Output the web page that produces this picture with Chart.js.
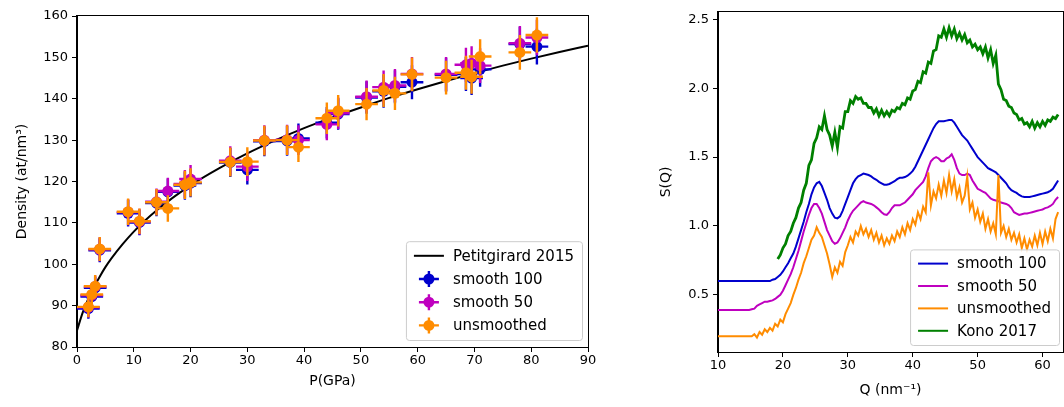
<!DOCTYPE html>
<html>
<head>
<meta charset="utf-8">
<script src="https://cdn.jsdelivr.net/npm/chart.js@4.4.1/dist/chart.umd.min.js"></script>
<style>
  body { margin: 0; background: #fff; }
  canvas { position: absolute; top: 0; }
</style>
</head>
<body>
<canvas id="left" width="600" height="407" style="left:0px"></canvas>
<canvas id="right" width="424" height="407" style="left:640px"></canvas>
<script>
// ---- left panel: density vs pressure ----
const pressure = [2.0, 2.6, 3.2, 4.0, 9.0, 11.0, 14.0, 16.0, 19.0, 20.0, 27.0, 30.0, 33.0, 37.0, 39.0,
                  44.0, 46.0, 51.0, 54.0, 56.0, 59.0, 65.0, 68.5, 69.5, 71.0, 78.0, 81.0];
const densSmooth100 = [89.3, 92.2, 94.3, 103.4, 112.3, 110.1, 114.8, 117.5, 119.0, 119.6, 124.6, 122.8, 129.7, 129.8, 130.4,
                       134.2, 136.3, 140.3, 141.8, 142.9, 144.0, 145.8, 146.0, 145.0, 147.1, 153.2, 152.6];
const densSmooth50 = [89.6, 92.5, 94.6, 103.6, 112.6, 110.3, 115.1, 117.7, 119.4, 120.6, 125.0, 123.6, 130.0, 130.1, 130.0,
                      133.8, 136.5, 140.5, 142.8, 143.2, 146.0, 146.0, 148.2, 148.6, 148.0, 153.4, 154.8];
const densUnsmoothed = [89.7, 92.7, 94.7, 103.7, 112.7, 110.4, 115.0, 113.5, 119.2, 119.8, 124.7, 124.8, 129.9, 130.0, 128.3,
                        135.3, 137.1, 138.7, 142.0, 141.3, 145.9, 145.1, 146.3, 145.3, 150.2, 151.2, 155.4];
const pErr = [2, 2, 2, 2, 2, 2, 2, 2, 2, 2, 2, 2, 2, 2, 2, 2, 2, 2, 2, 2, 2, 2, 2, 2, 2, 2, 2];
const dErr = [2.5, 2.6, 2.7, 2.9, 3.2, 3.1, 3.2, 3.2, 3.4, 3.4, 3.5, 3.5, 3.6, 3.6, 3.6,
              3.8, 3.8, 3.9, 4.0, 4.0, 4.1, 4.1, 4.1, 4.1, 4.2, 4.2, 4.3];

const eosP = [0, 1, 2, 3, 4, 5, 6, 8, 10, 12, 14, 16, 18, 20, 25, 30, 35, 40, 45, 50, 55, 60, 65, 70, 75, 80, 85, 90];
const eosD = [84.0, 88.3, 91.7, 94.5, 97.0, 99.3, 101.3, 104.8, 107.9, 110.6, 113.0, 115.2, 117.2, 119.1, 123.2, 126.8,
              130.0, 132.9, 135.5, 137.9, 140.2, 142.3, 144.3, 146.2, 148.0, 149.7, 151.3, 152.8];

const leftXTicks = [0, 10, 20, 30, 40, 50, 60, 70, 80, 90];
const leftYTicks = [80, 90, 100, 110, 120, 130, 140, 150, 160];

// ---- right panel: S(Q) ----
const qGrid = [
  10, 10.4, 10.8, 11.2, 11.6, 12, 12.4, 12.8, 13.2, 13.6,
  14, 14.4, 14.8, 15.2, 15.6, 16, 16.4, 16.8, 17.2, 17.6,
  18, 18.4, 18.8, 19.2, 19.6, 20, 20.4, 20.8, 21.2, 21.6,
  22, 22.4, 22.8, 23.2, 23.6, 24, 24.4, 24.8, 25.2, 25.6,
  26, 26.4, 26.8, 27.2, 27.6, 28, 28.4, 28.8, 29.2, 29.6,
  30, 30.4, 30.8, 31.2, 31.6, 32, 32.4, 32.8, 33.2, 33.6,
  34, 34.4, 34.8, 35.2, 35.6, 36, 36.4, 36.8, 37.2, 37.6,
  38, 38.4, 38.8, 39.2, 39.6, 40, 40.4, 40.8, 41.2, 41.6,
  42, 42.4, 42.8, 43.2, 43.6, 44, 44.4, 44.8, 45.2, 45.6,
  46, 46.4, 46.8, 47.2, 47.6, 48, 48.4, 48.8, 49.2, 49.6,
  50, 50.4, 50.8, 51.2, 51.6, 52, 52.4, 52.8, 53.2, 53.6,
  54, 54.4, 54.8, 55.2, 55.6, 56, 56.4, 56.8, 57.2, 57.6,
  58, 58.4, 58.8, 59.2, 59.6, 60, 60.4, 60.8, 61.2, 61.6,
  62, 62.4];

const sqSmooth100 = [
  0.60, 0.60, 0.60, 0.60, 0.60, 0.60, 0.60, 0.60, 0.60, 0.60,
  0.60, 0.60, 0.60, 0.60, 0.60, 0.60, 0.60, 0.60, 0.60, 0.60,
  0.60, 0.61, 0.615, 0.63, 0.645, 0.67, 0.70, 0.73, 0.765, 0.80,
  0.85, 0.91, 0.97, 1.03, 1.10, 1.16, 1.23, 1.28, 1.31, 1.32,
  1.29, 1.24, 1.19, 1.13, 1.09, 1.06, 1.055, 1.07, 1.11, 1.16,
  1.21, 1.26, 1.31, 1.34, 1.36, 1.37, 1.38, 1.375, 1.37, 1.36,
  1.345, 1.335, 1.32, 1.31, 1.30, 1.30, 1.305, 1.315, 1.325, 1.34,
  1.35, 1.35, 1.355, 1.365, 1.38, 1.40, 1.43, 1.47, 1.51, 1.55,
  1.59, 1.63, 1.67, 1.71, 1.74, 1.76, 1.76, 1.76, 1.765, 1.77,
  1.77, 1.75, 1.72, 1.69, 1.66, 1.64, 1.62, 1.59, 1.56, 1.53,
  1.50, 1.48, 1.46, 1.44, 1.42, 1.41, 1.40, 1.39, 1.37, 1.35,
  1.33, 1.31, 1.28, 1.26, 1.25, 1.24, 1.225, 1.215, 1.21, 1.21,
  1.21, 1.215, 1.22, 1.225, 1.23, 1.235, 1.24, 1.245, 1.255, 1.27,
  1.30, 1.33];

const sqSmooth50 = [
  0.39, 0.39, 0.39, 0.39, 0.39, 0.39, 0.39, 0.39, 0.39, 0.39,
  0.39, 0.39, 0.39, 0.395, 0.40, 0.42, 0.43, 0.44, 0.45, 0.45,
  0.455, 0.46, 0.47, 0.485, 0.50, 0.53, 0.57, 0.61, 0.65, 0.70,
  0.76, 0.82, 0.89, 0.96, 1.02, 1.08, 1.13, 1.16, 1.16, 1.13,
  1.09, 1.03, 0.97, 0.93, 0.89, 0.87, 0.88, 0.91, 0.95, 0.99,
  1.04, 1.08, 1.11, 1.13, 1.15, 1.17, 1.18, 1.17, 1.165, 1.16,
  1.15, 1.135, 1.12, 1.10, 1.085, 1.08, 1.10, 1.13, 1.15, 1.15,
  1.15, 1.16, 1.17, 1.19, 1.21, 1.23, 1.26, 1.28, 1.30, 1.32,
  1.36, 1.42, 1.47, 1.49, 1.50, 1.49, 1.47, 1.47, 1.49, 1.50,
  1.52, 1.48, 1.42, 1.38, 1.37, 1.37, 1.38, 1.37, 1.33, 1.30,
  1.27, 1.26, 1.25, 1.24, 1.22, 1.20, 1.19, 1.185, 1.18, 1.17,
  1.165, 1.16, 1.15, 1.13, 1.10, 1.09, 1.08, 1.085, 1.09, 1.09,
  1.095, 1.10, 1.105, 1.11, 1.115, 1.12, 1.13, 1.135, 1.145, 1.16,
  1.19, 1.21];

const sqUnsmoothed = [
  0.20, 0.20, 0.20, 0.20, 0.20, 0.20, 0.20, 0.20, 0.20, 0.20,
  0.20, 0.20, 0.20, 0.20, 0.215, 0.19, 0.23, 0.21, 0.25, 0.23,
  0.26, 0.24, 0.29, 0.27, 0.32, 0.30, 0.36, 0.40, 0.44, 0.50,
  0.55, 0.61, 0.66, 0.73, 0.78, 0.84, 0.90, 0.93, 0.99, 0.95,
  0.92, 0.86, 0.80, 0.72, 0.63, 0.70, 0.66, 0.74, 0.71, 0.81,
  0.86, 0.92, 0.88, 0.96, 0.93, 1.00, 0.94, 0.98, 0.92, 0.97,
  0.90, 0.95, 0.88, 0.93, 0.86, 0.91, 0.87, 0.93, 0.89, 0.96,
  0.92, 0.99, 0.94, 1.02, 0.97, 1.05, 1.01, 1.10, 1.05, 1.14,
  1.10, 1.39, 1.15, 1.25, 1.20, 1.30, 1.22, 1.33, 1.24, 1.37,
  1.25, 1.34, 1.21, 1.28, 1.17, 1.22, 1.36, 1.12, 1.17, 1.06,
  1.12, 1.03, 1.09, 0.98, 1.05, 0.96, 1.02, 0.94, 1.37, 0.95,
  1.00, 0.92, 0.98, 0.90, 0.95, 0.88, 0.94, 0.84, 0.91, 0.83,
  0.90, 0.85, 0.93, 0.86, 0.95, 0.87, 0.96, 0.89, 0.98, 0.91,
  1.05, 1.10];

const sqKono = [
  null, null, null, null, null, null, null, null, null, null,
  null, null, null, null, null, null, null, null, null, null,
  null, null, null, 0.76, 0.79, 0.84, 0.87, 0.93, 0.96, 1.02,
  1.06, 1.13, 1.17, 1.26, 1.31, 1.44, 1.48, 1.60, 1.64, 1.72,
  1.70, 1.80, 1.70, 1.66, 1.58, 1.68, 1.57, 1.72, 1.71, 1.83,
  1.83, 1.91, 1.89, 1.94, 1.92, 1.93, 1.89, 1.89, 1.86, 1.86,
  1.82, 1.85, 1.80, 1.84, 1.80, 1.83, 1.80, 1.84, 1.83, 1.86,
  1.85, 1.89, 1.88, 1.93, 1.92, 1.98, 1.99, 2.05, 2.04, 2.12,
  2.11, 2.19, 2.18, 2.27, 2.28, 2.38, 2.37, 2.43, 2.37, 2.44,
  2.38, 2.43, 2.36, 2.40, 2.35, 2.39, 2.33, 2.35, 2.30, 2.32,
  2.28, 2.30, 2.25, 2.30, 2.22, 2.28, 2.18, 2.24, 2.03, 1.99,
  1.92, 1.91, 1.87, 1.86, 1.82, 1.81, 1.77, 1.78, 1.74, 1.75,
  1.72, 1.76, 1.71, 1.75, 1.72, 1.76, 1.73, 1.77, 1.76, 1.79,
  1.78, 1.81];

const rightXTicks = [10, 20, 30, 40, 50, 60];
const rightYTicks = [0.5, 1.0, 1.5, 2.0, 2.5];

const BLUE = '#0000cd', MAGENTA = '#bf00bf', ORANGE = '#ff8c00', GREEN = '#008000';

Chart.defaults.font.family = '"DejaVu Sans"';
Chart.defaults.font.size = 13;
Chart.defaults.color = '#000';

// error bars drawn just before each scatter series so later series cover them
const errorBars = {
  id: 'errorBars',
  beforeDatasetDraw(chart, args) {
    const ds = chart.data.datasets[args.index];
    if (!ds.xErr) return;
    const { ctx, scales: { x, y } } = chart;
    ctx.save();
    ctx.strokeStyle = ds.backgroundColor;
    ctx.lineWidth = 2.4;
    ds.data.forEach((pt, i) => {
      const px = x.getPixelForValue(pt.x), py = y.getPixelForValue(pt.y);
      ctx.beginPath();
      ctx.moveTo(x.getPixelForValue(pt.x - ds.xErr[i]), py);
      ctx.lineTo(x.getPixelForValue(pt.x + ds.xErr[i]), py);
      ctx.moveTo(px, y.getPixelForValue(pt.y - ds.yErr[i]));
      ctx.lineTo(px, y.getPixelForValue(pt.y + ds.yErr[i]));
      ctx.stroke();
    });
    ctx.restore();
  }
};

// full box around the plot area
const frame = {
  id: 'frame',
  afterDatasetsDraw(chart) {
    const { ctx, chartArea: a } = chart;
    ctx.save();
    ctx.strokeStyle = '#000';
    ctx.lineWidth = 1;
    ctx.strokeRect(Math.round(a.left) - 0.5, Math.round(a.top) - 0.5,
                   Math.round(a.right - a.left) + 1, Math.round(a.bottom - a.top) + 1);
    ctx.restore();
  }
};

// matplotlib-like legend in the lower right corner of the plot area
const boxLegend = {
  id: 'boxLegend',
  afterDraw(chart, args, opts) {
    const { ctx, chartArea: a } = chart;
    ctx.save();
    ctx.font = '15px "DejaVu Sans"';
    const tw = Math.max(...opts.items.map(it => ctx.measureText(it.label).width));
    const w = 47 + tw + 8, h = opts.items.length * opts.rowH + 6;
    const x0 = a.right - opts.offRight - w, y0 = a.bottom - opts.offBottom - h;
    ctx.beginPath();
    ctx.roundRect(x0 + 0.5, y0 + 0.5, w, h, 3);
    ctx.fillStyle = 'rgba(255,255,255,0.8)';
    ctx.fill();
    ctx.strokeStyle = '#cccccc';
    ctx.lineWidth = 1;
    ctx.stroke();
    opts.items.forEach((it, i) => {
      const cy = y0 + 3 + opts.rowH * (i + 0.5);
      const cx = x0 + 23;
      ctx.strokeStyle = it.color;
      ctx.fillStyle = it.color;
      if (it.kind === 'line') {
        ctx.lineWidth = it.width || 2;
        ctx.beginPath();
        ctx.moveTo(x0 + 8, cy);
        ctx.lineTo(x0 + 38, cy);
        ctx.stroke();
      } else {
        ctx.lineWidth = 2.4;
        ctx.beginPath();
        ctx.moveTo(cx - 10, cy); ctx.lineTo(cx + 10, cy);
        ctx.moveTo(cx, cy - 8); ctx.lineTo(cx, cy + 8);
        ctx.stroke();
        ctx.beginPath();
        ctx.arc(cx, cy, 5.5, 0, Math.PI * 2);
        ctx.fill();
      }
      ctx.fillStyle = '#000';
      ctx.textBaseline = 'middle';
      ctx.fillText(it.label, x0 + 47, cy + 1);
    });
    ctx.restore();
  }
};

function pts(xs, ys) {
  return xs.map((v, i) => ({ x: v, y: ys[i] }));
}

function axisOpts(min, max, tickList, fmt, title, titlePad, size, horiz) {
  return {
    type: 'linear',
    min: min,
    max: max,
    afterBuildTicks: s => { s.ticks = tickList.map(v => ({ value: v })); },
    afterFit: s => { if (horiz) s.height = size; else s.width = size; },
    ticks: { font: { size: 13 }, color: '#000', padding: horiz ? 1 : 4, maxRotation: 0, callback: fmt },
    grid: { drawOnChartArea: false, drawTicks: true, tickLength: 5, color: '#000', lineWidth: 1 },
    border: { display: true, color: '#000', width: 1 },
    title: { display: true, text: title, font: { size: 14 }, color: '#000', padding: titlePad }
  };
}

const errPoint = (label, color, ys, order) => ({
  label: label,
  data: pts(pressure, ys),
  xErr: pErr,
  yErr: dErr,
  backgroundColor: color,
  borderColor: color,
  pointRadius: 5.5,
  pointHoverRadius: 5.5,
  pointBorderWidth: 0,
  showLine: false,
  order: order
});

new Chart(document.getElementById('left'), {
  type: 'scatter',
  data: {
    datasets: [
      {
        label: 'Petitgirard 2015',
        data: pts(eosP, eosD),
        showLine: true,
        borderColor: '#000',
        borderWidth: 2,
        pointRadius: 0,
        cubicInterpolationMode: 'monotone',
        order: 4
      },
      errPoint('smooth 100', BLUE, densSmooth100, 3),
      errPoint('smooth 50', MAGENTA, densSmooth50, 2),
      errPoint('unsmoothed', ORANGE, densUnsmoothed, 1)
    ]
  },
  options: {
    responsive: false,
    animation: false,
    layout: { padding: { top: 16, right: 12, left: 0, bottom: 0 } },
    scales: {
      x: axisOpts(0, 90, leftXTicks, v => String(v), 'P(GPa)', { top: 0, bottom: 17 }, 60, true),
      y: axisOpts(80, 160, leftYTicks, v => String(v), 'Density (at/nm³)', { top: 14, bottom: 0 }, 77, false)
    },
    plugins: {
      legend: { display: false },
      tooltip: { enabled: false },
      boxLegend: {
        offRight: 6, offBottom: 7, rowH: 23.2,
        items: [
          { label: 'Petitgirard 2015', color: '#000', kind: 'line' },
          { label: 'smooth 100', color: BLUE, kind: 'err' },
          { label: 'smooth 50', color: MAGENTA, kind: 'err' },
          { label: 'unsmoothed', color: ORANGE, kind: 'err' }
        ]
      }
    }
  },
  plugins: [errorBars, frame, boxLegend]
});

const sqLine = (label, color, ys, width, order) => ({
  label: label,
  data: pts(qGrid, ys),
  borderColor: color,
  backgroundColor: color,
  borderWidth: width,
  pointRadius: 0,
  tension: 0,
  spanGaps: false,
  order: order
});

new Chart(document.getElementById('right'), {
  type: 'line',
  data: {
    datasets: [
      sqLine('smooth 100', BLUE, sqSmooth100, 2, 4),
      sqLine('smooth 50', MAGENTA, sqSmooth50, 2, 3),
      sqLine('unsmoothed', ORANGE, sqUnsmoothed, 2, 2),
      sqLine('Kono 2017', GREEN, sqKono, 2.8, 1)
    ]
  },
  options: {
    responsive: false,
    animation: false,
    layout: { padding: { top: 11, right: 1, left: 0, bottom: 0 } },
    scales: {
      x: axisOpts(10, 63.15, rightXTicks, v => String(v), 'Q (nm⁻¹)', { top: 0, bottom: 8 }, 55, true),
      y: axisOpts(0.085, 2.555, rightYTicks, v => v.toFixed(1), 'S(Q)', { top: 18, bottom: 0 }, 78, false)
    },
    plugins: {
      legend: { display: false },
      tooltip: { enabled: false },
      boxLegend: {
        offRight: 4, offBottom: 7, rowH: 22.4,
        items: [
          { label: 'smooth 100', color: BLUE, kind: 'line' },
          { label: 'smooth 50', color: MAGENTA, kind: 'line' },
          { label: 'unsmoothed', color: ORANGE, kind: 'line' },
          { label: 'Kono 2017', color: GREEN, kind: 'line' }
        ]
      }
    }
  },
  plugins: [frame, boxLegend]
});
</script>
</body>
</html>
